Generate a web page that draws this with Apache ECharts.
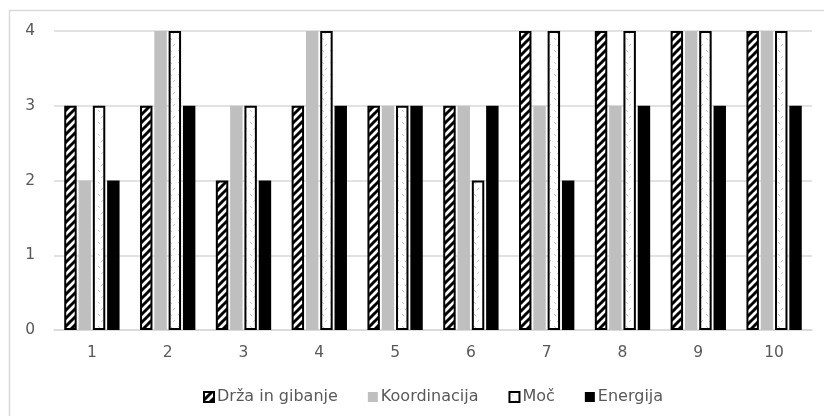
<!DOCTYPE html>
<html>
<head>
<meta charset="utf-8">
<script src="https://cdn.jsdelivr.net/npm/echarts@6/dist/echarts.min.js"></script>
<style>
  html, body { margin: 0; padding: 0; background: #fff; }
  #chart { width: 824px; height: 416px; }
</style>
</head>
<body>
<div id="chart"></div>
<script>
// Categories and scores per category
const categories = ['1', '2', '3', '4', '5', '6', '7', '8', '9', '10'];
const drzaInGibanje = [3, 3, 2, 3, 3, 3, 4, 4, 4, 4];
const koordinacija  = [2, 4, 3, 4, 3, 3, 3, 3, 4, 4];
const moc           = [3, 4, 3, 4, 3, 2, 4, 4, 4, 4];
const energija      = [2, 3, 2, 3, 3, 3, 2, 3, 3, 3];
const seriesNames = ['Drža in gibanje', 'Koordinacija', 'Moč', 'Energija'];
const yTicks = [0, 1, 2, 3, 4];

// Diagonal black/white stripe fill
function stripePattern() {
  const s = 8;
  const c = document.createElement('canvas');
  c.width = s; c.height = s;
  const g = c.getContext('2d');
  g.fillStyle = '#fff';
  g.fillRect(0, 0, s, s);
  g.strokeStyle = '#000';
  g.lineWidth = 3;
  for (let o = -s; o <= s; o += s) {
    g.beginPath();
    g.moveTo(o - 1, s + 1);
    g.lineTo(o + s + 1, -1);
    g.stroke();
  }
  return c;
}

// White fill with faint grey specks
function speckPattern() {
  const c = document.createElement('canvas');
  c.width = 8; c.height = 12;
  const g = c.getContext('2d');
  g.fillStyle = '#fff';
  g.fillRect(0, 0, 8, 12);
  g.fillStyle = '#c8c8c8';
  g.fillRect(2, 2, 1, 1);
  g.fillRect(3, 3, 1, 1);
  g.fillRect(6, 8, 1, 1);
  g.fillRect(5, 9, 1, 1);
  return c;
}

const chart = echarts.init(document.getElementById('chart'), null, { renderer: 'canvas' });

const labelColor = '#595959';
const gridColor = '#d9d9d9';
const fontFamily = '"DejaVu Sans", sans-serif';

const barCommon = {
  type: 'bar',
  barGap: '15%',
  barCategoryGap: '27%'
};

chart.setOption({
  animation: false,
  backgroundColor: '#fff',
  graphic: [{
    type: 'rect',
    shape: { x: 9.5, y: 10.5, width: 830, height: 420 },
    style: { fill: 'none', stroke: gridColor, lineWidth: 1.5 },
    silent: true,
    z: -1
  }],
  grid: { left: 54, right: 12, top: 31, bottom: 86 },
  legend: {
    data: seriesNames,
    left: 198,
    top: 384,
    icon: 'rect',
    itemWidth: 10,
    itemHeight: 10,
    itemGap: 30,
    textStyle: { color: labelColor, fontSize: 16, fontFamily: fontFamily, padding: [0, 0, 0, -2] }
  },
  xAxis: {
    type: 'category',
    data: categories,
    axisLine: { lineStyle: { color: gridColor, width: 1.5 } },
    axisTick: { show: false },
    axisLabel: { color: labelColor, fontSize: 15.5, fontFamily: fontFamily, margin: 15 }
  },
  yAxis: {
    type: 'value',
    min: yTicks[0],
    max: yTicks[yTicks.length - 1],
    interval: 1,
    axisLine: { show: false },
    axisTick: { show: false },
    splitLine: { lineStyle: { color: gridColor, width: 1.5 } },
    axisLabel: { color: labelColor, fontSize: 15.5, fontFamily: fontFamily, margin: 19 }
  },
  series: [
    Object.assign({}, barCommon, {
      name: seriesNames[0],
      data: drzaInGibanje,
      itemStyle: { color: { image: stripePattern(), repeat: 'repeat' }, borderColor: '#000', borderWidth: 2 }
    }),
    Object.assign({}, barCommon, {
      name: seriesNames[1],
      data: koordinacija,
      itemStyle: { color: '#bfbfbf' }
    }),
    Object.assign({}, barCommon, {
      name: seriesNames[2],
      data: moc,
      itemStyle: { color: { image: speckPattern(), repeat: 'repeat' }, borderColor: '#000', borderWidth: 2 }
    }),
    Object.assign({}, barCommon, {
      name: seriesNames[3],
      data: energija,
      itemStyle: { color: '#000' }
    })
  ]
});
</script>
</body>
</html>
